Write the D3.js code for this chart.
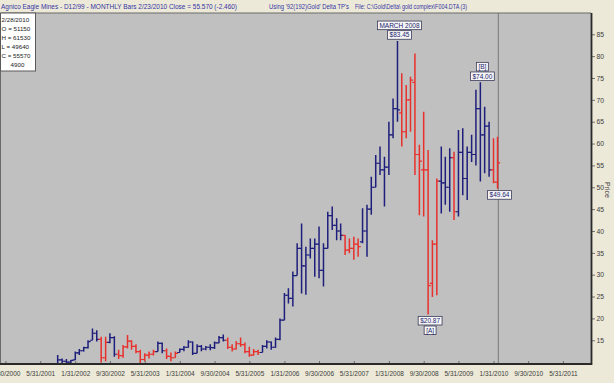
<!DOCTYPE html>
<html><head><meta charset="utf-8">
<script src="https://cdn.jsdelivr.net/npm/d3@7"></script>
<style>
html,body{margin:0;padding:0;background:#ece9d8;}
svg{display:block;font-family:"Liberation Sans",Arial,sans-serif;}
</style></head><body>
<svg id="c" width="614" height="383"></svg>
<script>
// ---------- DATA ----------
const firstMonth = "2001-09";   // first monthly bar, last bar = Feb 2010
const opens  = [9.4,10.5,10.2,10.0,10.5,12.1,12.6,13.3,15.0,16.6,15.2,11.0,14.5,15.6,11.8,11.5,13.5,14.8,13.6,12.4,10.6,11.6,11.8,12.4,14.3,12.6,11.3,11.0,12.2,12.9,13.4,14.6,12.0,13.6,13.0,13.4,13.3,14.4,15.6,15.0,13.4,13.0,14.2,14.0,12.4,11.6,12.4,12.2,13.6,14.6,13.4,15.2,19.6,25.3,24.6,29.8,36.0,32.0,34.5,36.0,37.0,31.0,36.0,43.5,41.3,40.0,39.0,35.6,36.0,37.0,37.5,40.0,45.0,50.0,55.5,54.0,54.6,62.0,68.0,67.0,62.7,70.0,74.0,57.5,54.0,54.0,28.0,37.0,51.4,51.0,50.0,56.8,44.4,58.0,52.0,58.0,57.5,68.0,62.0,64.0,54.0,51.15];
const highs  = [11.6,10.8,10.7,10.5,12.4,13.0,13.5,15.0,17.7,17.3,15.8,15.8,16.6,15.9,12.8,13.9,16.2,15.0,14.1,12.8,12.0,12.4,12.8,14.7,14.5,13.1,12.2,12.4,13.1,13.7,15.0,14.7,14.1,13.9,13.7,14.1,14.7,16.0,16.3,15.6,14.1,14.8,15.6,14.5,13.5,13.0,12.8,13.9,15.0,14.7,15.6,20.0,25.8,26.9,30.7,37.2,41.7,36.4,38.3,38.3,41.0,37.2,44.4,45.6,42.9,41.7,39.1,38.3,38.7,38.3,45.2,46.0,52.4,57.4,59.3,57.0,65.0,70.3,83.45,76.1,73.4,75.3,80.6,59.7,67.3,58.5,37.9,52.0,59.3,57.0,58.9,58.1,63.1,63.5,59.3,62.0,72.3,74.0,68.4,65.0,61.2,61.53];
const lows   = [9.2,9.7,9.6,9.3,10.5,11.6,12.4,13.1,15.0,14.7,9.9,10.2,14.3,11.2,10.7,11.0,13.1,12.8,12.0,9.7,10.2,10.8,11.5,12.4,12.0,10.7,10.2,11.0,12.2,12.5,13.3,11.6,12.0,12.5,12.7,12.7,13.0,14.3,14.7,13.0,12.4,12.9,13.5,12.0,11.2,11.5,11.6,12.2,13.1,12.8,13.3,15.0,19.6,23.4,22.7,29.8,25.7,25.4,33.7,29.5,29.2,27.3,36.0,40.2,37.9,37.9,34.5,34.9,33.4,34.1,37.2,34.1,43.7,50.0,52.8,45.6,52.8,61.2,65.0,59.3,61.2,62.7,52.8,43.6,43.3,20.87,24.9,25.3,44.0,46.0,44.4,42.5,43.3,48.2,47.1,55.8,55.0,51.3,53.2,52.4,50.9,49.64];
const closes = [10.5,10.2,10.0,10.4,12.1,12.6,13.3,14.7,16.6,15.2,11.0,14.5,15.6,11.8,11.5,13.5,14.8,13.6,12.4,10.6,11.6,11.8,12.4,14.3,12.6,11.3,11.0,12.0,12.9,13.4,14.6,12.0,13.6,13.0,13.4,13.3,14.4,15.6,15.0,13.4,13.0,14.2,14.0,12.4,11.6,12.4,12.2,13.6,14.6,13.4,15.2,19.6,25.3,24.6,29.8,36.0,32.0,34.5,36.0,37.0,31.0,36.0,43.5,41.3,40.0,39.0,35.6,36.0,37.0,36.4,40.0,45.0,50.0,55.5,54.0,54.6,62.0,68.0,67.7,62.7,70.0,74.5,57.5,56.0,54.0,27.5,37.0,51.4,51.0,50.0,56.8,44.4,58.0,52.0,58.0,57.5,68.0,62.0,64.0,54.0,51.2,55.57];
// trend state per bar: 1 = up (blue), -1 = down (red)
const trend  = [1,1,1,1,1,1,1,1,1,1,-1,-1,1,1,-1,-1,-1,-1,-1,-1,-1,-1,-1,1,1,-1,-1,-1,1,1,1,1,1,1,1,1,1,1,1,-1,-1,-1,-1,-1,-1,-1,-1,1,1,1,1,1,1,1,1,1,1,1,1,1,1,1,1,1,1,1,-1,-1,-1,-1,1,1,1,1,1,1,1,1,1,-1,-1,-1,-1,-1,-1,-1,-1,-1,1,1,1,-1,1,1,1,1,1,1,1,1,-1,-1];
const yTicks = [15,20,25,30,35,40,45,50,55,60,65,70,75,80,85];
const xTickLabels = ["9/30/2000","5/31/2001","1/31/2002","9/30/2002","5/31/2003","1/31/2004","9/30/2004","5/31/2005","1/31/2006","9/30/2006","5/31/2007","1/31/2008","9/30/2008","5/31/2009","1/31/2010","9/30/2010","5/31/2011"];
const headerLeft  = "Agnico Eagle Mines - D12/99  - MONTHLY Bars  2/23/2010 Close = 55.570 (-2.460)";
const headerMid   = "Using '92(192)Gold' Delta TP's";
const headerRight = "File: C:\\Gold\\Delta\\ gold complex\\F004.DTA (3)";
const infoLines = ["2/28/2010","O = 51150","H = 61530","L = 49640","C = 55570","4900"];
const annotations = [
  {month:"2008-03", value:83.45, side:"above", lines:["MARCH 2008","$83.45"]},
  {month:"2009-10", value:74.00, side:"above", lines:["[B]","$74.00"]},
  {month:"2008-10", value:20.87, side:"below", lines:["$20.87","[A]"]},
  {month:"2010-02", value:49.64, side:"below", lines:["$49.64"]}
];

// ---------- BUILD ----------
const parseM = d3.timeParse("%Y-%m");
const monthEnd = m => d3.timeDay.offset(d3.timeMonth.offset(m,1),-1);
const startM = parseM(firstMonth);
const bars = opens.map((o,i)=>({date:monthEnd(d3.timeMonth.offset(startM,i)),o,h:highs[i],l:lows[i],c:closes[i],t:trend[i]}));
const parseD = d3.timeParse("%m/%d/%Y");

const P = {l:1, r:591, t:13, b:363.5};
const svg = d3.select("#c");
const BLUE="#1e1e7c", RED="#e8302c";

const x = d3.scaleTime().domain([new Date(2000,7,30), new Date(2011,11,13)]).range([P.l,P.r]);
const y = d3.scaleLinear().domain([9.68, 89.87]).range([P.b,P.t]);

svg.append("rect").attr("width",614).attr("height",383).attr("fill","#ece9d8");
svg.append("rect").attr("x",P.l).attr("y",P.t).attr("width",P.r-P.l).attr("height",P.b-P.t).attr("fill","#c0c0c0");

// header
const hdr = svg.append("g").attr("font-size",6.9).attr("fill","#3434a4");
hdr.append("text").attr("x",1).attr("y",8.6).text(headerLeft).attr("textLength",236).attr("lengthAdjust","spacingAndGlyphs");
hdr.append("text").attr("x",269).attr("y",8.6).text(headerMid).attr("textLength",80).attr("lengthAdjust","spacingAndGlyphs");
hdr.append("text").attr("x",355).attr("y",8.6).text(headerRight).attr("textLength",112).attr("lengthAdjust","spacingAndGlyphs");

// clip
svg.append("clipPath").attr("id","pc").append("rect").attr("x",P.l).attr("y",P.t).attr("width",P.r-P.l).attr("height",P.b-P.t);

// current-bar vertical line
const last = bars[bars.length-1];
svg.append("line").attr("x1",x(last.date)+0.8).attr("x2",x(last.date)+0.8).attr("y1",P.t).attr("y2",P.b)
  .attr("stroke","#7a7a7a").attr("stroke-width",1);

// OHLC bars
const g = svg.append("g").attr("clip-path","url(#pc)");
const bg = g.selectAll("g.bar").data(bars).join("g").attr("class","bar")
  .attr("stroke",d=>d.t>0?BLUE:RED).attr("stroke-width",1.5);
bg.append("line").attr("x1",d=>x(d.date)).attr("x2",d=>x(d.date)).attr("y1",d=>y(d.h)).attr("y2",d=>y(d.l));
bg.append("line").attr("x1",d=>x(d.date)-2.6).attr("x2",d=>x(d.date)).attr("y1",d=>y(d.o)).attr("y2",d=>y(d.o)).attr("stroke-width",1.2);
bg.append("line").attr("x1",d=>x(d.date)).attr("x2",d=>x(d.date)+2.6).attr("y1",d=>y(d.c)).attr("y2",d=>y(d.c)).attr("stroke-width",1.2);

// plot border
svg.append("line").attr("x1",P.l).attr("x2",P.r).attr("y1",P.t).attr("y2",P.t).attr("stroke","#6a6a6a").attr("stroke-width",1);
svg.append("line").attr("x1",P.l-0.5).attr("x2",P.l-0.5).attr("y1",P.t).attr("y2",P.b).attr("stroke","#6a6a6a").attr("stroke-width",1);

// y axis (right)
const ya = svg.append("g").attr("transform",`translate(${P.r},0)`)
  .call(d3.axisRight(y).tickValues(yTicks).tickSize(4).tickSizeOuter(0).tickPadding(1.5));
ya.select(".domain").remove();
ya.selectAll(".tick line").attr("stroke","#555").attr("stroke-width",0.8);
ya.selectAll(".tick text").attr("font-size",6.8).attr("fill","#3c3c3c").attr("font-family","Liberation Sans, Arial, sans-serif");

// x axis
const xa = svg.append("g").attr("transform",`translate(0,${P.b})`)
  .call(d3.axisBottom(x).tickValues(xTickLabels.map(parseD)).tickFormat((d,i)=>xTickLabels[i]).tickSize(-2.5).tickSizeOuter(0).tickPadding(7.6));
xa.select(".domain").remove();
xa.selectAll(".tick line").attr("stroke","#555").attr("stroke-width",0.8);
xa.selectAll(".tick text").attr("font-size",6.5).attr("fill","#3c3c3c").attr("font-family","Liberation Sans, Arial, sans-serif");

// heavy axis lines
svg.append("line").attr("x1",P.l-1).attr("x2",P.r+1).attr("y1",P.b+0.5).attr("y2",P.b+0.5).attr("stroke","#2a2a2a").attr("stroke-width",1.8);
svg.append("line").attr("x1",P.r+0.5).attr("x2",P.r+0.5).attr("y1",P.t).attr("y2",P.b+1.4).attr("stroke","#2a2a2a").attr("stroke-width",1.8);

svg.append("text").attr("transform",`translate(605,190) rotate(90)`).attr("text-anchor","middle")
  .attr("font-size",7).attr("fill","#3c3c3c").text("Price");

// info box
const ib = svg.append("g");
ib.append("rect").attr("x",0.5).attr("y",P.t).attr("width",35).attr("height",58).attr("fill","#ffffff").attr("stroke","#5a5a5a").attr("stroke-width",1);
infoLines.forEach((s,i)=>{
  const t = ib.append("text").attr("font-size",6.2).attr("fill","#222").attr("y",22.3+i*9).text(s);
  if(i===infoLines.length-1) t.attr("x",17.5).attr("text-anchor","middle"); else t.attr("x",1.6);
});

// annotations
const ag = svg.append("g");
annotations.forEach(a=>{
  const d = monthEnd(parseM(a.month));
  const cx = x(d)+2;
  const yv = y(a.value);
  const bh = 8.6, gap = 1;
  const n = a.lines.length;
  a.lines.forEach((s,i)=>{
    let top;
    if(a.side==="above") top = yv - 1.8 - (n-i)*bh - (n-1-i)*gap;
    else top = yv + 1.8 + i*(bh+gap);
    const t = ag.append("text").attr("x",cx).attr("y",top+bh-2).attr("text-anchor","middle")
      .attr("font-size",6.5).attr("fill","#1c1c6e").text(s);
    const w = t.node().getComputedTextLength()+4;
    ag.insert("rect","text").attr("x",cx-w/2).attr("y",top).attr("width",w).attr("height",bh)
      .attr("fill","#f6f6f6").attr("stroke","#3a3a5a").attr("stroke-width",0.8);
  });
});
</script>
</body></html>
